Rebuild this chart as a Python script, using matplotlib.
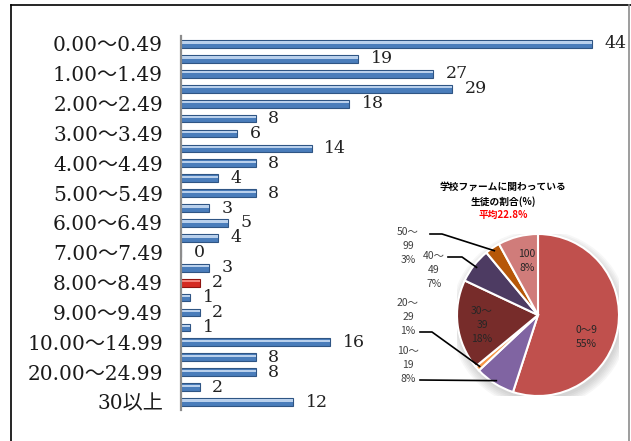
import numpy as np
import matplotlib
matplotlib.use('Agg')
import matplotlib.pyplot as plt
from matplotlib.patches import Circle

# 階級（時間帯）ごとの人数
categories = ['0.00〜0.49', '0.50〜0.99', '1.00〜1.49', '1.50〜1.99',
              '2.00〜2.49', '2.50〜2.99', '3.00〜3.49', '3.50〜3.99',
              '4.00〜4.49', '4.50〜4.99', '5.00〜5.49', '5.50〜5.99',
              '6.00〜6.49', '6.50〜6.99', '7.00〜7.49', '7.50〜7.99',
              '8.00〜8.49', '8.50〜8.99', '9.00〜9.49', '9.50〜9.99',
              '10.00〜14.99', '15.00〜19.99', '20.00〜24.99', '25.00〜29.99',
              '30以上']
counts = [44, 19, 27, 29, 18, 8, 6, 14, 8, 4, 8, 3, 5, 4, 0, 3, 2, 1, 2, 1,
          16, 8, 8, 2, 12]
highlight = '8.00〜8.49'

# 学校ファームに関わっている生徒の割合
pie_labels = ['0〜9', '10〜\n19', '20〜\n29', '30〜\n39', '40〜\n49', '50〜\n99', '100']
pie_pct = [55, 8, 1, 18, 7, 3, 8]
pie_colors = ['#c0504d', '#8064a2', '#f79646', '#772c2a', '#4d3b62', '#b65708', '#d07c7a']
pie_title = '学校ファームに関わっている\n生徒の割合(%)'
pie_avg = '平均22.8%'

W, H = 631, 441
fig = plt.figure(figsize=(W / 100, H / 100), dpi=100)
fig.patch.set_facecolor('white')


def px_axes(x0, y0, x1, y1):
    # pixel box (top-left origin) -> figure axes
    return fig.add_axes([x0 / W, 1 - y1 / H, (x1 - x0) / W, (y1 - y0) / H])


serif = ['DejaVu Serif', 'Noto Sans CJK JP']
sans = ['Noto Sans CJK JP', 'DejaVu Sans']

# ---- 棒グラフ ----
ax = px_axes(181, 36.5, 625, 409.5)
n = len(categories)
y = np.arange(n)
cols = ['#d42a22' if c == highlight else '#4a7dbb' for c in categories]
tops = ['#f3847c' if c == highlight else '#b9d0ec' for c in categories]
edges = ['#8e1410' if c == highlight else '#2f5584' for c in categories]
ax.barh(y, counts, height=0.52, color=cols, edgecolor=edges, linewidth=0.8)
ax.barh(y - 0.1, counts, height=0.15, color=tops, linewidth=0)
ax.set_xlim(0, 444 / 9.34)
ax.set_ylim(n - 0.5, -0.5)
for s in ['top', 'right', 'bottom']:
    ax.spines[s].set_visible(False)
ax.spines['left'].set_color('#8c8c8c')
ax.spines['left'].set_linewidth(1.6)
ax.set_xticks([])
ax.set_yticks(y[::2])
ax.set_yticklabels(categories[::2], family=serif, fontsize=14.5, color='#1a1a1a')
ax.tick_params(axis='y', length=0, pad=13)
for i, v in enumerate(counts):
    ax.annotate(str(v), (v, i), xytext=(9, 0), textcoords='offset points',
                ha='left', va='center', family=serif, fontsize=12.5, color='#222222')

# ---- 円グラフ ----
cx, cy, r = 538, 315, 81
pax = px_axes(cx - r, cy - r, cx + r, cy + r)
for k in range(6):
    pax.add_patch(Circle((0.02, -0.05), 1.0 + 0.02 * k, color='#7a7a7a',
                         alpha=0.06, lw=0, zorder=0))
wedges, _ = pax.pie(pie_pct, colors=pie_colors, startangle=90, counterclock=False,
                    radius=1, wedgeprops=dict(edgecolor='white', linewidth=1.5))
pax.set_xlim(-1, 1)
pax.set_ylim(-1, 1)
pax.set_aspect('equal')
pax.axis('off')

# 全体の上に重ねる注記用の軸（ピクセル座標）
ov = px_axes(0, 0, W, H)
ov.set_xlim(0, W)
ov.set_ylim(H, 0)
ov.axis('off')
ov.patch.set_alpha(0)

txt_kw = dict(family=sans, fontsize=7.5, ha='center', va='center', linespacing=1.45)
inside = {0: (586, 337), 3: (482, 325), 6: (527, 261)}
outside = {5: ((408, 246), [(430, 234), (442, 234)]),
           4: ((434, 270), [(448, 257), (462, 257)]),
           2: ((408, 317), [(420, 332), (432, 332)]),
           1: ((408, 365), [(420, 380)])}
for i, w in enumerate(wedges):
    label = pie_labels[i] + '\n' + f'{pie_pct[i]}%'
    if i in inside:
        ov.text(*inside[i], label, color='#262626', **txt_kw)
    else:
        pos, pts = outside[i]
        ov.text(*pos, label, color='#404040', **txt_kw)
        mid = np.deg2rad((w.theta1 + w.theta2) / 2)
        ex = cx + 0.96 * r * np.cos(mid)
        ey = cy - 0.96 * r * np.sin(mid)
        xs = [p[0] for p in pts] + [ex]
        ys = [p[1] for p in pts] + [ey]
        ov.plot(xs, ys, color='black', lw=1.2)

ov.text(503, 194, pie_title, family=sans, fontsize=7, fontweight='bold',
        color='black', ha='center', va='center', linespacing=1.5)
ov.text(503, 215, pie_avg, family=sans, fontsize=7, fontweight='bold',
        color='#ff0000', ha='center', va='center')

# 外枠
ov.plot([11, W], [5, 5], color='black', lw=1.2)
ov.plot([11, 11], [5, H], color='black', lw=1.2)
ov.plot([629, 629], [5, H], color='#8c8c8c', lw=1.2)

fig.savefig('out.png', dpi=100)
